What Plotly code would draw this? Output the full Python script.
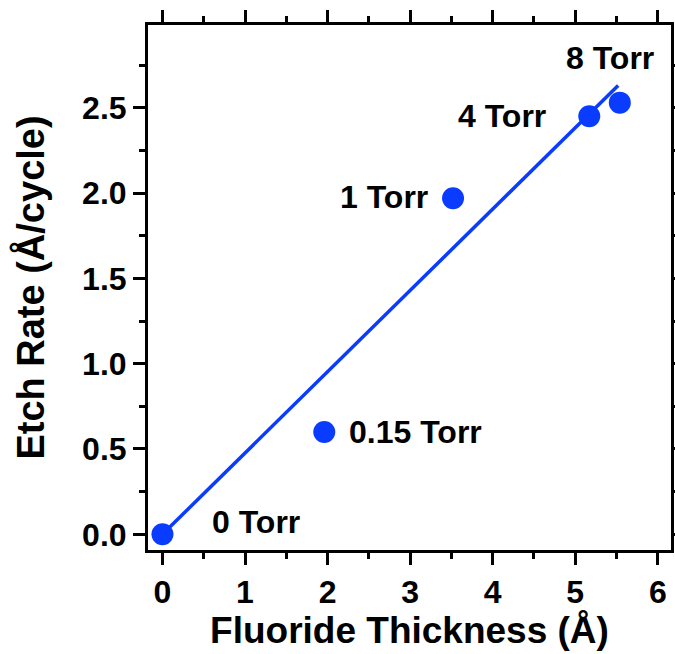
import plotly.graph_objects as go

# Measured etch rate vs. fluoride layer thickness at several HF pressures
pressure_labels = ["0 Torr", "0.15 Torr", "1 Torr", "4 Torr", "8 Torr"]
fluoride_thickness = [0.0, 1.96, 3.52, 5.17, 5.54]   # Å
etch_rate = [0.0, 0.60, 1.97, 2.45, 2.53]            # Å/cycle

# Linear fit drawn through the data
fit_x = [0.0, 5.52]
fit_y = [0.0, 2.63]

BLUE = "#0a3cff"
FONT = "Liberation Sans, Arial, Helvetica, sans-serif"

fig = go.Figure()

fig.add_trace(go.Scatter(
    x=fit_x, y=fit_y, mode="lines",
    line=dict(color=BLUE, width=3.5),
    showlegend=False, hoverinfo="skip",
))

fig.add_trace(go.Scatter(
    x=fluoride_thickness, y=etch_rate, mode="markers",
    marker=dict(color=BLUE, size=22, line=dict(width=0)),
    showlegend=False,
))

# Label placement (anchor + pixel offset from each point)
placement = [
    dict(xanchor="center", yanchor="middle", xshift=94, yshift=12),
    dict(xanchor="left", yanchor="middle", xshift=23, yshift=0),
    dict(xanchor="right", yanchor="middle", xshift=-23, yshift=1),
    dict(xanchor="right", yanchor="middle", xshift=-41, yshift=0),
    dict(xanchor="center", yanchor="middle", xshift=-10, yshift=45),
]
for lbl, x, y, p in zip(pressure_labels, fluoride_thickness, etch_rate, placement):
    fig.add_annotation(
        x=x, y=y, text=lbl, showarrow=False,
        font=dict(family=FONT, size=32, color="black", weight="bold"),
        **p,
    )

axis_common = dict(
    automargin=False,
    showline=True, linecolor="black", linewidth=3,
    mirror="ticks", ticks="outside", ticklen=12, tickwidth=3, tickcolor="black",
    showgrid=False, zeroline=False,
    tickfont=dict(family=FONT, size=32, color="black", weight="bold"),
    minor=dict(ticks="outside", ticklen=6, tickwidth=3, tickcolor="black", showgrid=False),
)

fig.update_xaxes(
    range=[-0.175, 6.16], tickmode="array",
    tickvals=[0, 1, 2, 3, 4, 5, 6], ticktext=["0", "1", "2", "3", "4", "5", "6"],
    minor_dtick=0.5,
    title=dict(text="Fluoride Thickness (Å)", standoff=0,
               font=dict(family=FONT, size=37, color="black", weight="bold")),
    **axis_common,
)
fig.update_yaxes(
    range=[-0.092, 2.985], tickmode="array",
    tickvals=[0, 0.5, 1.0, 1.5, 2.0, 2.5], ticktext=["0.0", "0.5", "1.0", "1.5", "2.0", "2.5"],
    minor_dtick=0.25,
    title=dict(text="Etch Rate (Å/cycle)", standoff=26,
               font=dict(family=FONT, size=38, color="black", weight="bold")),
    **axis_common,
)

fig.update_layout(
    width=675, height=654,
    margin=dict(l=148, r=4, t=25, b=104),
    plot_bgcolor="white", paper_bgcolor="white",
)

fig.write_html("out.html")
